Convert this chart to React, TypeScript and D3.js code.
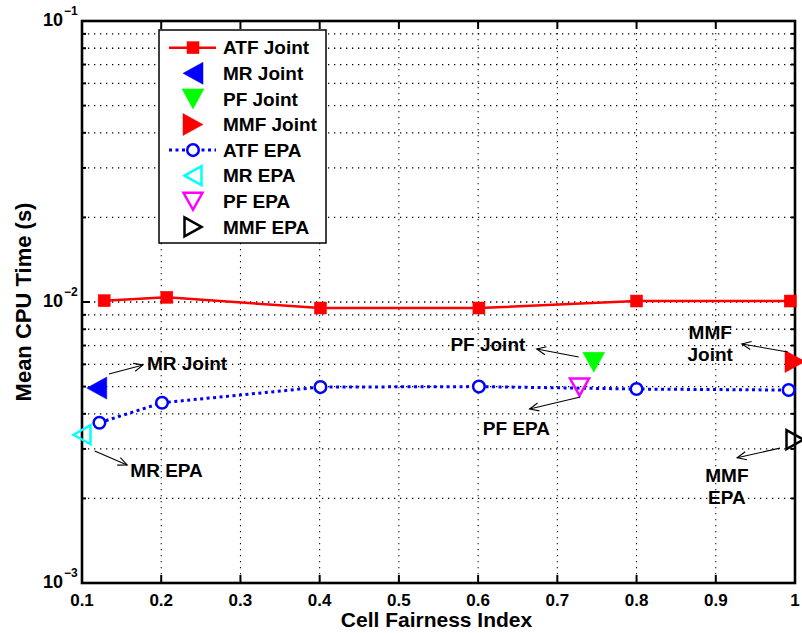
import React from 'react';
import * as d3 from 'd3';

// ---------- data ----------
const xTickValues = [0.1, 0.2, 0.3, 0.4, 0.5, 0.6, 0.7, 0.8, 0.9, 1];
const xTickLabels = ['0.1', '0.2', '0.3', '0.4', '0.5', '0.6', '0.7', '0.8', '0.9', '1'];
const yMajorValues = [1e-3, 1e-2, 1e-1];
const yMajorExponents = ['\u22123', '\u22122', '\u22121'];

const atfJointX = [0.128, 0.207, 0.401, 0.601, 0.8, 0.994];
const atfJointY = [1.011e-2, 1.039e-2, 0.952e-2, 0.952e-2, 1.008e-2, 1.008e-2];
const atfEpaX = [0.122, 0.201, 0.401, 0.601, 0.8, 0.992];
const atfEpaY = [3.72e-3, 4.38e-3, 4.98e-3, 5.0e-3, 4.9e-3, 4.86e-3];

const singleNames = ['MR Joint', 'PF Joint', 'MMF Joint', 'MR EPA', 'PF EPA', 'MMF EPA'];
const singleX = [0.1186, 0.746, 1.0, 0.1, 0.728, 1.0];
const singleY = [4.94e-3, 6.1e-3, 6.14e-3, 3.37e-3, 4.98e-3, 3.24e-3];

const legendNames = ['ATF Joint', 'MR Joint', 'PF Joint', 'MMF Joint', 'ATF EPA', 'MR EPA', 'PF EPA', 'MMF EPA'];

const annLines = [['MR Joint'], ['MR EPA'], ['PF Joint'], ['PF EPA'], ['MMF', 'Joint'], ['MMF', 'EPA']];
const annAnchor = ['start', 'start', 'start', 'start', 'middle', 'middle'];
const annTextX = [0.182, 0.161, 0.565, 0.606, 0.893, 0.914];
const annTextY = [6.07e-3, 2.52e-3, 7.09e-3, 3.56e-3, 7.82e-3, 2.42e-3];
const annTailX = [0.134, 0.116, 0.727, 0.729, 0.991, 0.981];
const annTailY = [5.54e-3, 2.95e-3, 6.37e-3, 4.59e-3, 6.64e-3, 3.02e-3];
const annHeadX = [0.177, 0.157, 0.674, 0.665, 0.933, 0.927];
const annHeadY = [5.97e-3, 2.63e-3, 6.8e-3, 4.16e-3, 7.09e-3, 2.79e-3];

// ---------- layout / style ----------
const W = 802, H = 633;
const L = 82, R = 795, T = 21, B = 583;
const FONT = '"Liberation Sans", Arial, Helvetica, sans-serif';

type MarkerKind = 'square' | 'circle' | 'left' | 'down' | 'right';
interface Sty { kind: MarkerKind; color: string; filled: boolean; }
const styles: Record<string, Sty> = {
  'ATF Joint': { kind: 'square', color: '#ff0000', filled: true },
  'MR Joint': { kind: 'left', color: '#0000ff', filled: true },
  'PF Joint': { kind: 'down', color: '#00ff00', filled: true },
  'MMF Joint': { kind: 'right', color: '#ff0000', filled: true },
  'ATF EPA': { kind: 'circle', color: '#0000ff', filled: false },
  'MR EPA': { kind: 'left', color: '#00ffff', filled: false },
  'PF EPA': { kind: 'down', color: '#ff00ff', filled: false },
  'MMF EPA': { kind: 'right', color: '#000000', filled: false },
};

function Marker({ s, cx, cy }: { s: Sty; cx: number; cy: number }) {
  const fill = s.filled ? s.color : 'none';
  const stroke = s.color;
  const sw = s.filled ? 0.5 : 2.5;
  const a = s.filled ? 10 : 8.5;
  const b = s.filled ? 11 : 9.5;
  if (s.kind === 'square') {
    return <rect x={cx - 6} y={cy - 6} width={12} height={12} fill={s.color} stroke={s.color} strokeWidth={0.5} />;
  }
  if (s.kind === 'circle') {
    return <circle cx={cx} cy={cy} r={5.8} fill="#ffffff" stroke={s.color} strokeWidth={2.5} />;
  }
  let d = '';
  if (s.kind === 'left') d = `M${cx - a},${cy} L${cx + a},${cy - b} L${cx + a},${cy + b} Z`;
  if (s.kind === 'right') d = `M${cx + a},${cy} L${cx - a},${cy - b} L${cx - a},${cy + b} Z`;
  if (s.kind === 'down') d = `M${cx - b},${cy - a} L${cx + b},${cy - a} L${cx},${cy + a} Z`;
  return <path d={d} fill={fill} stroke={stroke} strokeWidth={sw} strokeLinejoin="miter" />;
}

export default function App() {
  const x = d3.scaleLinear().domain([0.1, 1]).range([L, R]);
  const y = d3.scaleLog().domain([1e-3, 1e-1]).range([B, T]);

  const minorY: number[] = [];
  for (let e = -3; e < -1; e++) {
    for (let m = 1; m <= 9; m++) {
      minorY.push(m * Math.pow(10, e));
    }
  }
  const gridY = minorY.filter((v) => v > 1.0001e-3);
  const gridX = xTickValues.slice(1, -1);

  const jointPath = d3.line<number>().x((d, i) => x(atfJointX[i])).y((d) => y(d))(atfJointY) || '';
  const epaPath = d3.line<number>().x((d, i) => x(atfEpaX[i])).y((d) => y(d))(atfEpaY) || '';

  const legX = 159, legY = 30, legW = 167, legH = 213;
  const legRow = 25.6;
  const legFirst = 47.7;

  return (
    <svg width={W} height={H} style={{ position: 'absolute', left: 0, top: 0, background: '#fff' }} fontFamily={FONT} fontWeight="bold">
      <rect x={0} y={0} width={W} height={H} fill="#ffffff" />
      {/* grid */}
      <g stroke="#000" strokeWidth={1.3} strokeDasharray="1.3,4.7">
        {gridY.map((v, i) => (
          <line key={'gy' + i} x1={L} x2={R} y1={y(v)} y2={y(v)} />
        ))}
        {gridX.map((v, i) => (
          <line key={'gx' + i} x1={x(v)} x2={x(v)} y1={T} y2={B} strokeWidth={1} />
        ))}
      </g>
      {/* ticks */}
      <g stroke="#000" strokeWidth={2}>
        {xTickValues.map((v, i) => (
          <g key={'xt' + i}>
            <line x1={x(v)} x2={x(v)} y1={B} y2={B - 8} />
            <line x1={x(v)} x2={x(v)} y1={T} y2={T + 8} />
          </g>
        ))}
        {minorY.concat([1e-1]).map((v, i) => {
          const major = yMajorValues.some((m) => Math.abs(m - v) / m < 1e-6);
          const len = major ? 8 : 4;
          return (
            <g key={'yt' + i}>
              <line x1={L} x2={L + len} y1={y(v)} y2={y(v)} />
              <line x1={R} x2={R - len} y1={y(v)} y2={y(v)} />
            </g>
          );
        })}
      </g>
      {/* tick labels */}
      <g fontSize={17} fill="#000">
        {xTickValues.map((v, i) => (
          <text key={'xl' + i} x={x(v)} y={B + 17} dy="0.35em" textAnchor="middle">
            {xTickLabels[i]}
          </text>
        ))}
        {yMajorValues.map((v, i) => (
          <g key={'yl' + i}>
            <text x={63} y={y(v) - 1} dy="0.35em" textAnchor="end" fontSize={18}>10</text>
            <text x={64} y={y(v) - 10} dy="0.35em" textAnchor="start" fontSize={12}>{yMajorExponents[i]}</text>
          </g>
        ))}
      </g>
      {/* axis labels */}
      <text x={(L + R) / 2 - 2} y={620} dy="0.35em" textAnchor="middle" fontSize={21}>Cell Fairness Index</text>
      <text transform={`translate(23,${(T + B) / 2})`} dy="0.35em" textAnchor="middle" fontSize={22}>
        <tspan />
      </text>
      <text transform={`translate(23,${(T + B) / 2}) rotate(-90)`} dy="0.35em" textAnchor="middle" fontSize={22}>Mean CPU Time (s)</text>
      {/* box */}
      <rect x={L} y={T} width={R - L} height={B - T} fill="none" stroke="#000" strokeWidth={2.6} />
      {/* series */}
      <path d={jointPath} fill="none" stroke="#ff0000" strokeWidth={2.5} />
      <path d={epaPath} fill="none" stroke="#0000ff" strokeWidth={3} strokeDasharray="3,3.5" />
      {atfEpaY.map((v, i) => (
        <Marker key={'ce' + i} s={styles['ATF EPA']} cx={x(atfEpaX[i])} cy={y(v)} />
      ))}
      {atfJointY.map((v, i) => (
        <Marker key={'sj' + i} s={styles['ATF Joint']} cx={x(atfJointX[i])} cy={y(v)} />
      ))}
      {singleNames.map((n, i) => (
        <Marker key={'s' + i} s={styles[n]} cx={x(singleX[i])} cy={y(singleY[i])} />
      ))}
      {/* annotations */}
      {annLines.map((lines, i) => {
        const tx = x(annTailX[i]), ty = y(annTailY[i]);
        const hx = x(annHeadX[i]), hy = y(annHeadY[i]);
        const ang = Math.atan2(hy - ty, hx - tx);
        const al = 10, spread = 0.42;
        const p1 = [hx - al * Math.cos(ang - spread), hy - al * Math.sin(ang - spread)];
        const p2 = [hx - al * Math.cos(ang + spread), hy - al * Math.sin(ang + spread)];
        return (
          <g key={'a' + i}>
            <line x1={tx} y1={ty} x2={hx} y2={hy} stroke="#000" strokeWidth={1.1} />
            <polyline points={`${p1[0]},${p1[1]} ${hx},${hy} ${p2[0]},${p2[1]}`} fill="none" stroke="#000" strokeWidth={1.1} />
            {lines.map((t, j) => (
              <text key={j} x={x(annTextX[i])} y={y(annTextY[i]) + j * 22} dy="0.35em" textAnchor={annAnchor[i] as any} fontSize={19} fill="#000">
                {t}
              </text>
            ))}
          </g>
        );
      })}
      {/* legend */}
      <rect x={legX} y={legY} width={legW} height={legH} fill="#ffffff" stroke="#000" strokeWidth={1.5} />
      {legendNames.map((n, i) => {
        const cy = legFirst + i * legRow;
        const s = styles[n];
        return (
          <g key={'lg' + i}>
            {n === 'ATF Joint' && <line x1={169} x2={216} y1={cy} y2={cy} stroke="#ff0000" strokeWidth={2.5} />}
            {n === 'ATF EPA' && <line x1={169} x2={216} y1={cy} y2={cy} stroke="#0000ff" strokeWidth={3} strokeDasharray="3,3.5" />}
            <Marker s={s} cx={193} cy={cy} />
            <text x={223} y={cy} dy="0.35em" fontSize={19} fill="#000">{n}</text>
          </g>
        );
      })}
    </svg>
  );
}
